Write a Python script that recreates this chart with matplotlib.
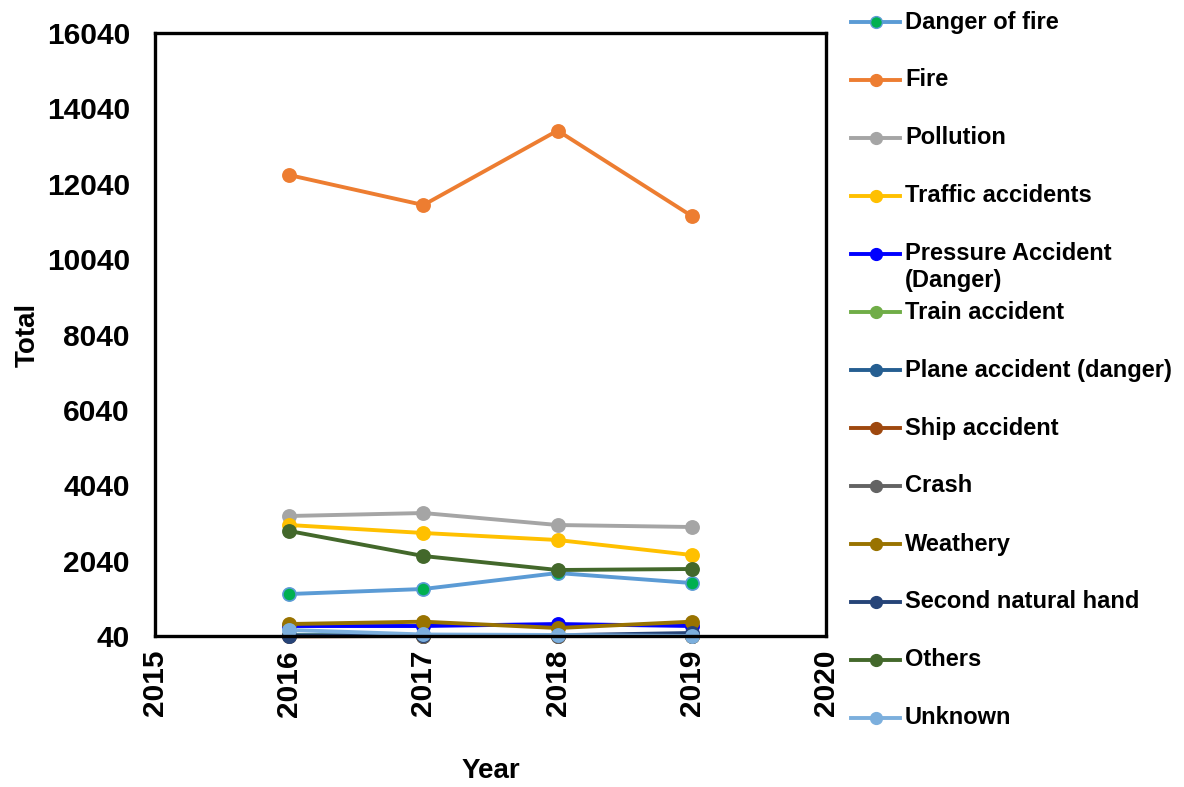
import matplotlib
matplotlib.use("Agg")
import matplotlib.pyplot as plt
from matplotlib.lines import Line2D

plt.rcParams['font.family'] = ['Liberation Sans', 'DejaVu Sans']
plt.rcParams['font.weight'] = 'bold'

years = [2016, 2017, 2018, 2019]
series_names = ["Danger of fire", "Fire", "Pollution", "Traffic accidents",
                "Pressure Accident\n(Danger)", "Train accident", "Plane accident (danger)",
                "Ship accident", "Crash", "Weathery", "Second natural hand", "Others", "Unknown"]
danger_of_fire = [1154, 1287, 1711, 1446]
fire = [12271, 11475, 13451, 11183]
pollution = [3224, 3303, 2985, 2932]
traffic = [2985, 2773, 2587, 2189]
pressure = [305, 305, 358, 305]
train = [60, 50, 50, 50]
plane = [60, 50, 50, 50]
ship = [30, 40, 40, 50]
crash = [40, 40, 40, 50]
weathery = [358, 420, 252, 420]
second_natural = [40, 60, 60, 120]
others = [2826, 2162, 1791, 1818]
unknown = [200, 80, 67, 40]

values = [danger_of_fire, fire, pollution, traffic, pressure, train, plane,
          ship, crash, weathery, second_natural, others, unknown]
line_colors = ["#5B9BD5", "#ED7D31", "#A5A5A5", "#FFC000", "#0000FF", "#70AD47", "#255E91",
               "#9E480E", "#636363", "#997300", "#264478", "#43682B", "#7CAFDD"]
face_colors = ["#00B050"] + line_colors[1:]

yticks = list(range(40, 16041, 2000))
xticks = [2015, 2016, 2017, 2018, 2019, 2020]

W, H = 1184, 787
fig = plt.figure(figsize=(W/100, H/100), dpi=100)
ax = fig.add_axes([155/W, 1-636/H, (826-155)/W, (636-33)/H])

for name, vals, lc, fc in zip(series_names, values, line_colors, face_colors):
    ax.plot(years, vals, color=lc, lw=2.8, marker='o', markersize=9.5,
            markerfacecolor=fc, markeredgecolor=lc, markeredgewidth=1.2,
            clip_on=False, solid_capstyle='round')

ax.set_xlim(2015, 2020)
ax.set_ylim(40, 16040)
ax.set_yticks(yticks)
ax.set_xticks(xticks)
ax.set_yticklabels([str(v) for v in yticks], fontsize=21.5, fontweight='bold')
ax.set_xticklabels([str(v) for v in xticks], fontsize=21.5, fontweight='bold', rotation=90)
ax.tick_params(axis='y', length=0, pad=18)
ax.tick_params(axis='x', length=0, pad=10)
for s in ax.spines.values():
    s.set_linewidth(2.4)
    s.set_color('black')
ax.set_ylabel("Total", fontsize=20, fontweight='bold')
ax.set_xlabel("Year", fontsize=20, fontweight='bold')
ax.yaxis.set_label_coords((28 - 155) / 671, 0.5)
ax.xaxis.set_label_coords(0.5, (636 - 771) / 603)
ax.yaxis.label.set_va('center')
ax.xaxis.label.set_va('center')

# legend drawn manually to match even spacing
for i, (name, lc, fc) in enumerate(zip(series_names, line_colors, face_colors)):
    yp = 22 + 58 * i
    yf = 1 - yp / H
    fig.add_artist(Line2D([851/W, 900/W], [yf, yf], color=lc, lw=2.8,
                          transform=fig.transFigure))
    fig.add_artist(Line2D([876/W], [yf], marker='o', markersize=8.5, color=lc,
                          markerfacecolor=fc, markeredgecolor=lc, markeredgewidth=1.0,
                          transform=fig.transFigure))
    if '\n' in name:
        fig.text(905/W, 1 - (yp - 12) / H, name, fontsize=17, fontweight='bold', va='top',
                 ha='left', linespacing=1.2)
    else:
        fig.text(905/W, yf, name, fontsize=17, fontweight='bold', va='center', ha='left')

fig.savefig("out.png", dpi=100)
